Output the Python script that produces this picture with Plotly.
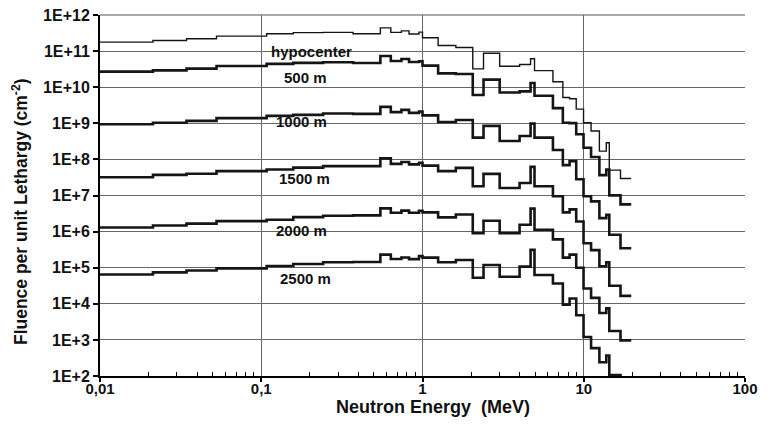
import plotly.graph_objects as go

# Energy group edges (MeV)
edges = [0.01, 0.0213, 0.0344, 0.0528, 0.108, 0.158, 0.242, 0.371, 0.548, 0.636,
         0.740, 0.825, 0.951, 1.0, 1.25, 1.61, 2.05, 2.39, 3.01, 4.0, 4.68, 4.95,
         6.44, 7.42, 8.17, 8.98, 9.97, 11.1, 12.5, 13.8, 14.4, 16.9, 19.7]

hypocenter = [1.77e11, 1.97e11, 2.20e11, 2.60e11, 3.03e11, 3.24e11, 3.30e11, 3.03e11,
              4.40e11, 3.30e11, 3.63e11, 2.99e11, 3.36e11, 2.34e11, 1.43e11, 1.26e11,
              3.21e10, 8.75e10, 3.79e10, 4.24e10, 6.11e10, 2.88e10, 1.42e10, 5.20e9,
              4.79e9, 2.47e9, 1.04e9, 6.14e8, 1.70e8, 2.90e8, 5.04e7, 2.96e7]
m500 = [2.70e10, 2.92e10, 3.27e10, 3.85e10, 4.43e10, 4.72e10, 4.91e10, 4.67e10,
        7.31e10, 5.30e10, 6.03e10, 4.97e10, 5.24e10, 3.97e10, 2.42e10, 2.33e10,
        6.07e9, 1.62e10, 7.16e9, 7.64e9, 1.31e10, 5.79e9, 2.64e9, 1.04e9,
        1.01e9, 4.97e8, 2.10e8, 1.16e8, 3.66e7, 5.26e7, 1.01e7, 5.69e6]
m1000 = [9.44e8, 1.04e9, 1.17e9, 1.39e9, 1.61e9, 1.71e9, 1.86e9, 1.83e9,
         2.86e9, 2.04e9, 2.36e9, 1.95e9, 2.12e9, 1.66e9, 1.09e9, 1.24e9,
         4.00e8, 8.47e8, 3.24e8, 4.46e8, 9.82e8, 4.00e8, 1.82e8, 6.93e7,
         8.97e7, 2.82e7, 9.51e6, 6.89e6, 2.36e6, 2.94e6, 8.15e5, 3.45e5]
m1500 = [3.21e7, 3.72e7, 4.02e7, 4.72e7, 5.26e7, 5.92e7, 6.50e7, 6.50e7,
         1.07e8, 7.53e7, 8.51e7, 7.26e7, 8.04e7, 6.71e7, 4.72e7, 5.83e7,
         1.80e7, 3.97e7, 1.62e7, 2.23e7, 6.22e7, 1.80e7, 9.51e6, 3.40e6,
         4.13e6, 1.91e6, 4.75e5, 3.07e5, 1.10e5, 1.42e5, 3.16e4, 1.66e4]
m2000 = [1.30e6, 1.48e6, 1.66e6, 1.95e6, 2.13e6, 2.52e6, 2.75e6, 2.81e6,
         4.40e6, 3.34e6, 3.82e6, 3.34e6, 3.79e6, 3.40e6, 2.47e6, 2.99e6,
         9.02e5, 2.00e6, 9.02e5, 1.55e6, 4.32e6, 1.12e6, 6.10e5, 1.90e5,
         2.30e5, 1.00e5, 2.65e4, 1.46e4, 5.58e3, 7.45e3, 1.76e3, 9.68e2]
m2500 = [6.50e4, 7.40e4, 8.36e4, 9.57e4, 1.11e5, 1.27e5, 1.41e5, 1.44e5,
         2.30e5, 1.75e5, 1.92e5, 1.73e5, 2.09e5, 1.90e5, 1.42e5, 1.64e5,
         5.26e4, 1.19e5, 5.61e4, 1.07e5, 3.11e5, 6.27e4, 3.66e4, 9.51e3,
         1.40e4, 4.81e3, 1.20e3, 5.92e2, 2.41e2, 3.70e2, 1.07e2, 5.0e1]

series = [("hypocenter", hypocenter, 1.4), ("500 m", m500, 2.6), ("1000 m", m1000, 2.6),
          ("1500 m", m1500, 2.6), ("2000 m", m2000, 2.6), ("2500 m", m2500, 2.6)]

x_tick_vals = [0.01, 0.1, 1, 10, 100]
x_tick_text = ["0,01", "0,1", "1", "10", "100"]
y_tick_vals = [1e2, 1e3, 1e4, 1e5, 1e6, 1e7, 1e8, 1e9, 1e10, 1e11, 1e12]
y_tick_text = ["1E+2", "1E+3", "1E+4", "1E+5", "1E+6", "1E+7", "1E+8", "1E+9",
               "1E+10", "1E+11", "1E+12"]
minor_x = [m * 10.0 ** d for d in (-2, -1, 0, 1) for m in range(2, 10)]

# label placement in screen pixels: centre x, centre y, box width
label_pos = {"hypocenter": (312, 51, 94), "500 m": (306, 77, 54), "1000 m": (302, 122, 68),
             "1500 m": (305, 178, 60), "2000 m": (302, 230, 68), "2500 m": (306, 278, 60)}

OFF = 8  # page body margin
SW, SH = 772, 429
W, H = SW - OFF, SH - OFF
# plot area in screen pixels: x 100..745.5, y 15..376
L, T = 100 - OFF, 15 - OFF
R, B = SW - 745.5, SH - 376
pw, ph = W - L - R, H - T - B

FONT = "Liberation Sans, Arial, sans-serif"


def px2paper(px, py):
    return (px - OFF - L) / pw, (H - B - (py - OFF)) / ph


fig = go.Figure()
for name, vals, lw in series:
    fig.add_trace(go.Scatter(x=edges, y=vals + [vals[-1]], mode="lines",
                             line=dict(shape="hv", color="#151515", width=lw),
                             name=name, showlegend=False))

annotations = []
shapes = []
for name, (px, py, bw) in label_pos.items():
    ax, ay = px2paper(px, py)
    x0, y0 = px2paper(px - bw / 2, py + 7)
    x1, y1 = px2paper(px + bw / 2, py - 7)
    shapes.append(dict(type="rect", xref="paper", yref="paper", x0=x0, x1=x1, y0=y0, y1=y1,
                       fillcolor="white", line=dict(width=0), layer="between"))
    annotations.append(dict(xref="paper", yref="paper", x=ax, y=ay,
                            text="<b>%s</b>" % name, showarrow=False,
                            font=dict(family=FONT, size=15, color="#111"),
                            xanchor="center", yanchor="middle"))
# top border of the plot area
shapes.append(dict(type="line", xref="paper", yref="paper", x0=0, x1=1, y0=1, y1=1,
                   line=dict(color="#555", width=1.2), layer="between"))
tx, ty = px2paper(433, 407)
annotations.append(dict(xref="paper", yref="paper", x=tx, y=ty,
                        text="<b>Neutron Energy&nbsp; (MeV)</b>", showarrow=False,
                        font=dict(family=FONT, size=18, color="#111"),
                        xanchor="center", yanchor="middle"))
tx, ty = px2paper(20, 212)
annotations.append(dict(xref="paper", yref="paper", x=tx, y=ty,
                        text="<b>Fluence per unit Lethargy (cm<sup>-2</sup>)</b>", showarrow=False,
                        textangle=-90, font=dict(family=FONT, size=17.5, color="#111"),
                        xanchor="center", yanchor="middle"))

fig.update_layout(
    width=W, height=H, margin=dict(l=L, r=R, t=T, b=B, autoexpand=False),
    paper_bgcolor="white", plot_bgcolor="white",
    annotations=annotations, shapes=shapes,
    xaxis=dict(type="log", range=[-2, 2], tickmode="array", tickvals=x_tick_vals,
               ticktext=x_tick_text, showgrid=True, gridcolor="#666", gridwidth=1,
               showline=True, linecolor="black", linewidth=2, ticks="outside",
               ticklen=4, tickwidth=1.5, tickcolor="black", automargin=False,
               ticklabelstandoff=-6, ticklabeloverflow="allow",
               tickfont=dict(family=FONT, size=15, color="#111", weight="bold"),
               minor=dict(tickmode="array", tickvals=minor_x, ticks="inside",
                          ticklen=4, tickwidth=1.2, tickcolor="black", showgrid=False),
               zeroline=False),
    yaxis=dict(type="log", range=[2, 12], tickmode="array", tickvals=y_tick_vals,
               ticktext=y_tick_text, showgrid=True, gridcolor="#666", gridwidth=1,
               showline=True, linecolor="black", linewidth=2, ticks="outside",
               ticklen=5, tickwidth=1.5, tickcolor="black", automargin=False,
               ticklabeloverflow="allow",
               tickfont=dict(family=FONT, size=16, color="#111", weight="bold"),
               zeroline=False),
)

fig.write_html("out.html")
